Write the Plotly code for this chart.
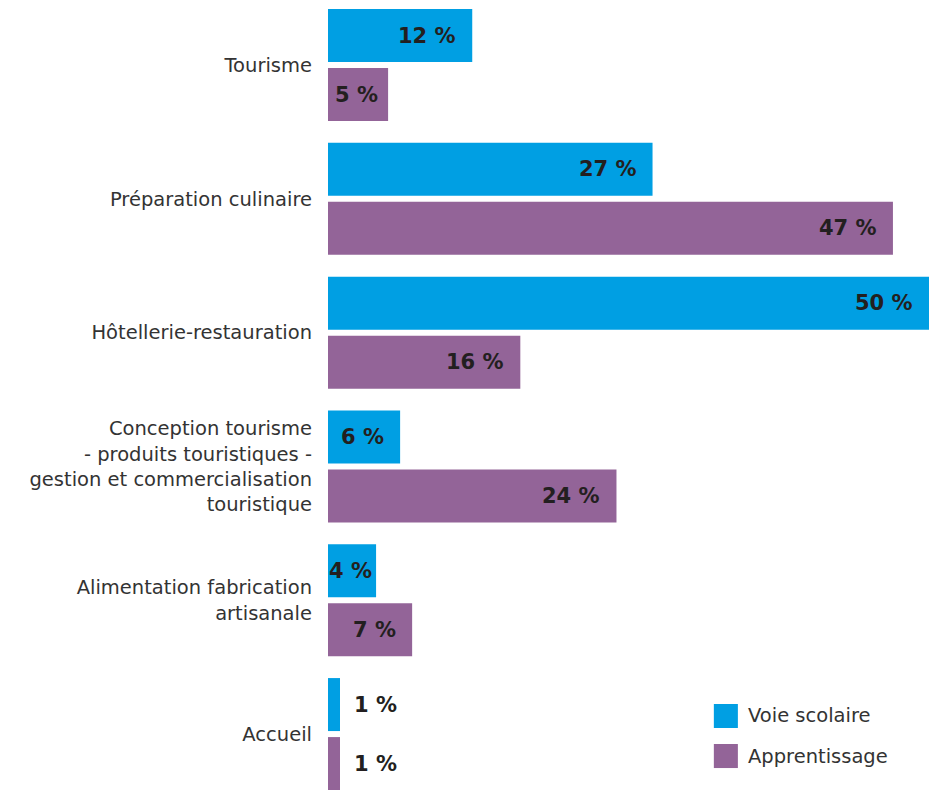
import plotly.graph_objects as go

categories = [
    "Tourisme",
    "Préparation culinaire",
    "Hôtellerie-restauration",
    "Conception tourisme<br>- produits touristiques -<br>gestion et commercialisation<br>touristique",
    "Alimentation fabrication<br>artisanale",
    "Accueil",
]
voie_scolaire = [12, 27, 50, 6, 4, 1]
apprentissage = [5, 47, 16, 24, 7, 1]
series_names = ["Voie scolaire", "Apprentissage"]
colors = ["#009FE3", "#936498"]

FONT = "DejaVu Sans"
fig = go.Figure()
for name, vals, col in zip(series_names, [voie_scolaire, apprentissage], colors):
    fig.add_trace(go.Bar(
        y=categories, x=vals, name=name, orientation="h",
        marker=dict(color=col, line=dict(width=0)),
        showlegend=False, hoverinfo="skip",
    ))

annotations = []
for vals, shift in zip([voie_scolaire, apprentissage], [29.5, -29.5]):
    for cat, v in zip(categories, vals):
        if v >= 6:
            xa, xs = "right", -14
        elif v >= 5:
            xa, xs = "right", -8
        elif v >= 3:
            xa, xs = "right", -2
        else:
            xa, xs = "left", 12
        annotations.append(dict(
            x=v, y=cat, xref="x", yref="y", text=f"{v} %", showarrow=False,
            xanchor=xa, yanchor="middle", xshift=xs, yshift=shift,
            font=dict(family=FONT, size=21, color="#231F20", weight="bold"),
        ))

# manual legend
legend_items = [(0.1089, 0.0785, 0.0937), (0.0582, 0.0278, 0.043)]
shapes = []
for (y0, y1, yt), name, col in zip(legend_items, series_names, colors):
    shapes.append(dict(type="rect", xref="paper", yref="paper",
                       x0=0.642, x1=0.682, y0=y1, y1=y0,
                       fillcolor=col, line=dict(width=0)))
    annotations.append(dict(x=0.6955, y=yt, xref="paper", yref="paper",
                            text=name, showarrow=False, xanchor="left",
                            yanchor="middle",
                            font=dict(family=FONT, size=19.5, color="#333333")))

fig.update_layout(
    width=938, height=790,
    margin=dict(l=328, r=9, t=0, b=0),
    paper_bgcolor="white", plot_bgcolor="white",
    barmode="group", bargap=0.118, bargroupgap=0.102,
    font=dict(family=FONT, size=19.5, color="#333333"),
    annotations=annotations, shapes=shapes,
    showlegend=False,
)
fig.update_xaxes(range=[0, 50], visible=False, showgrid=False, zeroline=False)
fig.update_yaxes(
    categoryorder="array", categoryarray=categories,
    range=[5.418, -0.486], showgrid=False, zeroline=False,
    showline=False, ticks="", ticklabelstandoff=15,
    tickfont=dict(family=FONT, size=19.5, color="#333333"),
)

fig.write_html("out.html")
